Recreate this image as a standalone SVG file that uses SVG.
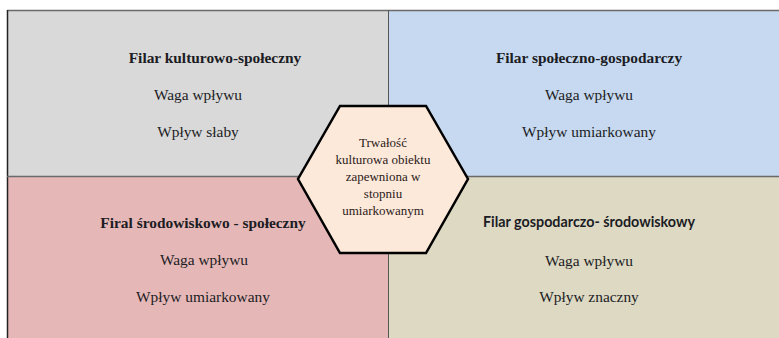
<svg xmlns="http://www.w3.org/2000/svg" width="779" height="338" viewBox="0 0 779 338">
<style>
.t{font-family:"Liberation Serif",serif;font-size:15.4px;fill:#1c1c24;text-anchor:middle}
.b{font-weight:bold}
.s{font-family:Lato,sans-serif;font-size:15px;font-weight:bold;fill:#1c1c24;text-anchor:middle}
.h{font-family:"Liberation Serif",serif;font-size:13px;fill:#2a1a1a;text-anchor:middle}
</style>
<rect width="779" height="338" fill="#ffffff"/>
<g id="q-kulturowo-spoleczny">
<rect x="7" y="10" width="381" height="166.5" fill="#d9d9d9"/>
<text class="t b" x="215" y="63">Filar kulturowo-społeczny</text>
<text class="t" x="198" y="100">Waga wpływu</text>
<text class="t" x="198" y="137">Wpływ słaby</text>
</g>
<g id="q-spoleczno-gospodarczy">
<rect x="388" y="10" width="391" height="166.5" fill="#c6d9f0"/>
<text class="t b" x="589" y="63">Filar społeczno-gospodarczy</text>
<text class="t" x="589" y="100">Waga wpływu</text>
<text class="t" x="589" y="137">Wpływ umiarkowany</text>
</g>
<g id="q-srodowiskowo-spoleczny">
<rect x="7" y="176.5" width="381" height="162" fill="#e5b8b7"/>
<text class="t b" x="203" y="228">Firal środowiskowo - społeczny</text>
<text class="t" x="204" y="265">Waga wpływu</text>
<text class="t" x="203" y="302">Wpływ umiarkowany</text>
</g>
<g id="q-gospodarczo-srodowiskowy">
<rect x="388" y="176.5" width="391" height="162" fill="#ddd9c3"/>
<text class="s" x="589" y="227" textLength="212" lengthAdjust="spacingAndGlyphs">Filar gospodarczo- środowiskowy</text>
<text class="t" x="589" y="266">Waga wpływu</text>
<text class="t" x="589" y="302">Wpływ znaczny</text>
</g>
<g id="connectors" fill="none">
<line x1="7" y1="10.5" x2="779" y2="10.5" stroke="#6a6a6a" stroke-width="1.5"/>
<line x1="7.5" y1="10" x2="7.5" y2="338" stroke="#222222" stroke-width="1.5"/>
<line x1="388.5" y1="10" x2="388.5" y2="338" stroke="#555555" stroke-width="1"/>
<line x1="7" y1="176.5" x2="779" y2="176.5" stroke="#6a6a6a" stroke-width="1.5"/>
</g>
<g id="hexagon">
<polygon points="340,106 426,106 468,179 426,253 340,253 298,179" fill="#fde9d9" stroke="#000000" stroke-width="2.5" stroke-linejoin="miter"/>
<text class="h" x="383" y="147">Trwałość</text>
<text class="h" x="383" y="164">kulturowa obiektu</text>
<text class="h" x="383" y="181">zapewniona w</text>
<text class="h" x="383" y="198">stopniu</text>
<text class="h" x="383" y="215">umiarkowanym</text>
</g>
</svg>
